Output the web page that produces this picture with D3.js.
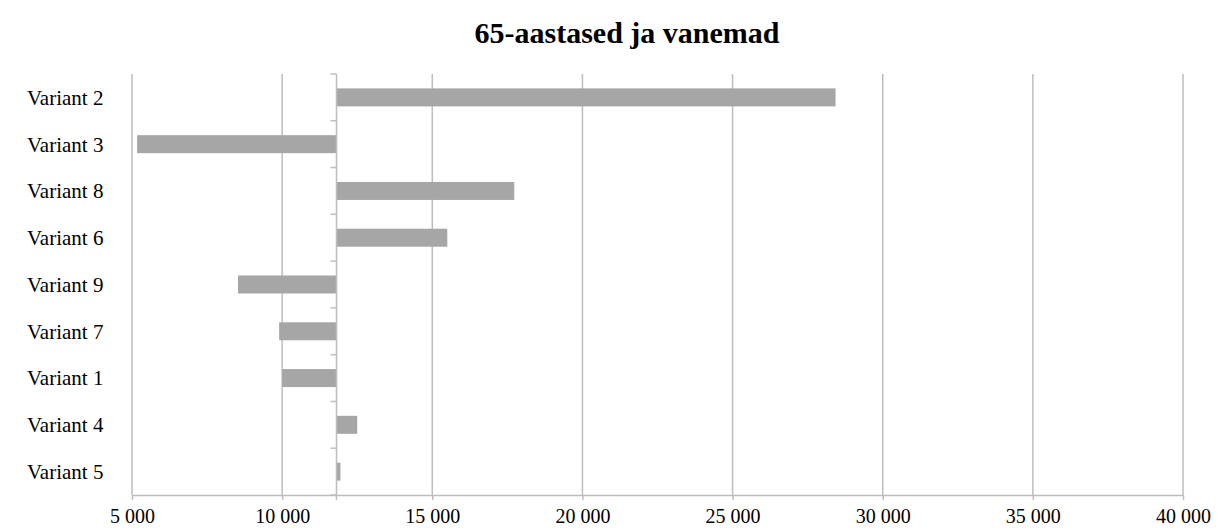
<!DOCTYPE html>
<html>
  <head>
    <meta charset="utf-8">
    <title>65-aastased ja vanemad</title>
    <style media="screen">
      body { margin: 0; background: white; }
      text { font-family: "Liberation Serif", "DejaVu Serif", serif; fill: #000; }
      .grid line { stroke: #bdbdbd; stroke-width: 1.5; }
      .x.axis path, .x.axis line, .y.axis path, .y.axis line { stroke: #bdbdbd; stroke-width: 1.5; fill: none; }
      rect.bar { fill: #a6a6a6; }
    </style>
    <script src="https://d3js.org/d3.v7.min.js"></script>
  </head>
  <body>
    <script type="text/javascript">

      const categories = ["Variant 2", "Variant 3", "Variant 8", "Variant 6", "Variant 9",
                          "Variant 7", "Variant 1", "Variant 4", "Variant 5"];
      const values = [28430, 5170, 17730, 15500, 8530, 9900, 10000, 12500, 11940];
      const baseValue = 11810;
      const xTicks = [5000, 10000, 15000, 20000, 25000, 30000, 35000, 40000];

      const width = 1217, height = 528;
      const margin = { top: 74, right: 34, bottom: 33, left: 132 };
      const innerW = width - margin.left - margin.right;
      const innerH = height - margin.top - margin.bottom;

      const svg = d3.select('body').append('svg')
        .attr('width', width)
        .attr('height', height);

      svg.append('text')
        .attr('x', 627)
        .attr('y', 43)
        .attr('text-anchor', 'middle')
        .style('font-size', '30px')
        .style('font-weight', 'bold')
        .text('65-aastased ja vanemad');

      const g = svg.append('g').attr('transform', `translate(${margin.left},${margin.top})`);

      const x = d3.scaleLinear().domain([5000, 40000]).range([0, innerW]);
      const y = d3.scaleBand().domain(categories).range([0, innerH]).paddingInner(0.615).paddingOuter(0.3075);

      // vertical gridlines
      g.append('g').attr('class', 'grid')
        .selectAll('line')
        .data(xTicks)
        .enter().append('line')
          .attr('x1', d => x(d)).attr('x2', d => x(d))
          .attr('y1', 0).attr('y2', innerH);

      // bars from the base value
      g.selectAll('rect.bar')
        .data(categories)
        .enter().append('rect')
          .attr('class', 'bar')
          .attr('x', (d, i) => Math.min(x(values[i]), x(baseValue)))
          .attr('width', (d, i) => Math.abs(x(values[i]) - x(baseValue)))
          .attr('y', d => y(d))
          .attr('height', y.bandwidth());

      // bottom axis
      const xAxis = d3.axisBottom(x)
        .tickValues(xTicks)
        .tickSize(5)
        .tickSizeOuter(0)
        .tickFormat(d => d3.format(',')(d).replace(',', ' '));
      const xg = g.append('g').attr('class', 'x axis')
        .attr('transform', `translate(0,${innerH})`)
        .call(xAxis);
      xg.selectAll('text')
        .attr('dy', null)
        .attr('y', 28)
        .style('font-size', '20px');

      // category axis at the base value
      const catG = g.append('g').attr('class', 'y axis')
        .attr('transform', `translate(${x(baseValue)},0)`);
      catG.append('line')
        .attr('x1', 0).attr('x2', 0)
        .attr('y1', 0).attr('y2', innerH + 5);
      catG.selectAll('line.tick')
        .data(d3.range(categories.length + 1))
        .enter().append('line')
          .attr('class', 'tick')
          .attr('x1', -6).attr('x2', 0)
          .attr('y1', d => d * (innerH / categories.length))
          .attr('y2', d => d * (innerH / categories.length));

      // category labels on the left
      svg.append('g').selectAll('text')
        .data(categories)
        .enter().append('text')
          .attr('x', 27)
          .attr('y', d => margin.top + y(d) + y.bandwidth() / 2)
          .attr('dy', '0.35em')
          .style('font-size', '21px')
          .text(d => d);
    </script>
  </body>
</html>
